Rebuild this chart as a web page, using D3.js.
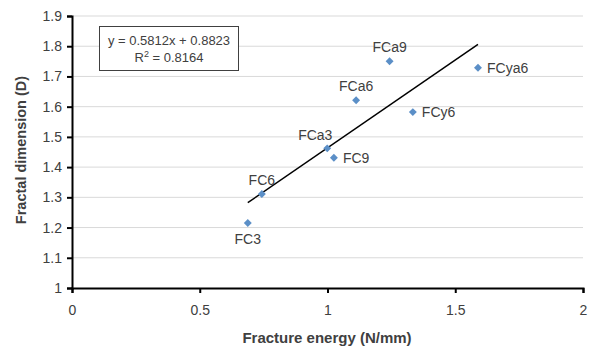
<!DOCTYPE html>
<html>
<head>
<meta charset="utf-8">
<script src="https://cdn.jsdelivr.net/npm/d3@7"></script>
<style>
  body { margin: 0; background: #fff; }
  text { font-family: "Liberation Sans", Arial, sans-serif; fill: #404040; }
</style>
</head>
<body>
<svg id="chart" width="591" height="349"></svg>
<script>
// data
var sampleNames = ["FC3", "FC6", "FCa3", "FC9", "FCa6", "FCy6", "FCa9", "FCya6"];
var fractureEnergy = [0.688, 0.743, 0.999, 1.025, 1.112, 1.334, 1.243, 1.589];
var fractalDim = [1.215, 1.311, 1.462, 1.431, 1.621, 1.582, 1.750, 1.729];
var labelPlace = ["below", "above", "aboveLeft", "right", "above", "right", "above", "right"];
var trendSlope = 0.5812, trendIntercept = 0.8823, trendR2 = 0.8164;
var xTicks = [0, 0.5, 1, 1.5, 2];
var yTicks = [1, 1.1, 1.2, 1.3, 1.4, 1.5, 1.6, 1.7, 1.8, 1.9];

var svg = d3.select("#chart");
var margin = {left: 72, right: 8, top: 16, bottom: 61};
var W = 591, H = 349;

var x = d3.scaleLinear().domain([0, 2]).range([margin.left, W - margin.right]);
var y = d3.scaleLinear().domain([1, 1.9]).range([H - margin.bottom, margin.top]);

/*========== gridlines ===========*/
svg.append("g")
    .selectAll("line")
    .data(yTicks.slice(1))
    .enter()
    .append("line")
    .attr("x1", x(0)).attr("x2", x(2))
    .attr("y1", function (d) { return y(d); })
    .attr("y2", function (d) { return y(d); })
    .attr("stroke", "#d9d9d9")
    .attr("stroke-width", 1);

/*========== axes ===========*/
var yAxis = svg.append("g")
    .attr("transform", "translate(" + x(0) + ",0)")
    .call(d3.axisLeft(y).tickValues(yTicks).tickSize(5).tickPadding(5)
        .tickFormat(function (d) { return d3.format("")(+d.toFixed(1)); }));
var xAxis = svg.append("g")
    .attr("transform", "translate(0," + y(1) + ")")
    .call(d3.axisBottom(x).tickValues(xTicks).tickSize(5).tickPadding(12)
        .tickFormat(function (d) { return d3.format("")(d); }));

[xAxis, yAxis].forEach(function (ax) {
    ax.select(".domain").attr("stroke", "#000").attr("stroke-width", 2);
    ax.selectAll(".tick line").attr("stroke", "#000").attr("stroke-width", 2);
    ax.selectAll(".tick text")
        .style("font-family", '"Liberation Sans", Arial, sans-serif')
        .style("font-size", "14px")
        .attr("fill", "#404040");
});

/*========== trendline ===========*/
var xMin = d3.min(fractureEnergy), xMax = d3.max(fractureEnergy);
svg.append("line")
    .attr("x1", x(xMin)).attr("y1", y(trendSlope * xMin + trendIntercept))
    .attr("x2", x(xMax)).attr("y2", y(trendSlope * xMax + trendIntercept))
    .attr("stroke", "#000")
    .attr("stroke-width", 1.5);

/*========== points ===========*/
var pts = sampleNames.map(function (n, i) {
    return {name: n, fx: fractureEnergy[i], fy: fractalDim[i], place: labelPlace[i]};
});

svg.append("g")
    .selectAll("path")
    .data(pts)
    .enter()
    .append("path")
    .attr("d", d3.symbol().type(d3.symbolDiamond2).size(40))
    .attr("transform", function (d) { return "translate(" + x(d.fx) + "," + y(d.fy) + ")"; })
    .attr("fill", "#5b8fc7");

svg.append("g")
    .selectAll("text")
    .data(pts)
    .enter()
    .append("text")
    .text(function (d) { return d.name; })
    .attr("x", function (d) {
        var px = x(d.fx);
        if (d.place === "right") return px + 9;
        if (d.place === "aboveLeft") return px - 12;
        return px;
    })
    .attr("y", function (d) {
        var py = y(d.fy);
        if (d.place === "below") return py + 21;
        if (d.place === "above") return py - 9;
        if (d.place === "aboveLeft") return py - 8;
        return py + 5;
    })
    .style("text-anchor", function (d) { return d.place === "right" ? "start" : "middle"; })
    .style("font-size", "14px");

/*========== equation box ===========*/
var eq = svg.append("g");
eq.append("rect")
    .attr("x", 99.5).attr("y", 26.5)
    .attr("width", 139).attr("height", 44)
    .attr("fill", "#fff")
    .attr("stroke", "#404040")
    .attr("stroke-width", 1);
eq.append("text")
    .attr("x", 169).attr("y", 45)
    .style("text-anchor", "middle")
    .style("font-size", "13px")
    .text("y = " + trendSlope + "x + " + trendIntercept);
var r2 = eq.append("text")
    .attr("x", 169).attr("y", 62)
    .style("text-anchor", "middle")
    .style("font-size", "13px");
r2.append("tspan").text("R");
r2.append("tspan").attr("dy", -5).style("font-size", "9px").text("2");
r2.append("tspan").attr("dy", 5).text(" = " + trendR2);

/*========== axis titles ===========*/
svg.append("text")
    .attr("x", 327).attr("y", 343)
    .style("text-anchor", "middle")
    .style("font-weight", "bold")
    .style("font-size", "15px")
    .text("Fracture energy (N/mm)");
svg.append("text")
    .attr("transform", "translate(26," + 150 + ") rotate(-90)")
    .style("text-anchor", "middle")
    .style("font-weight", "bold")
    .style("font-size", "14.5px")
    .text("Fractal dimension (D)");
</script>
</body>
</html>
